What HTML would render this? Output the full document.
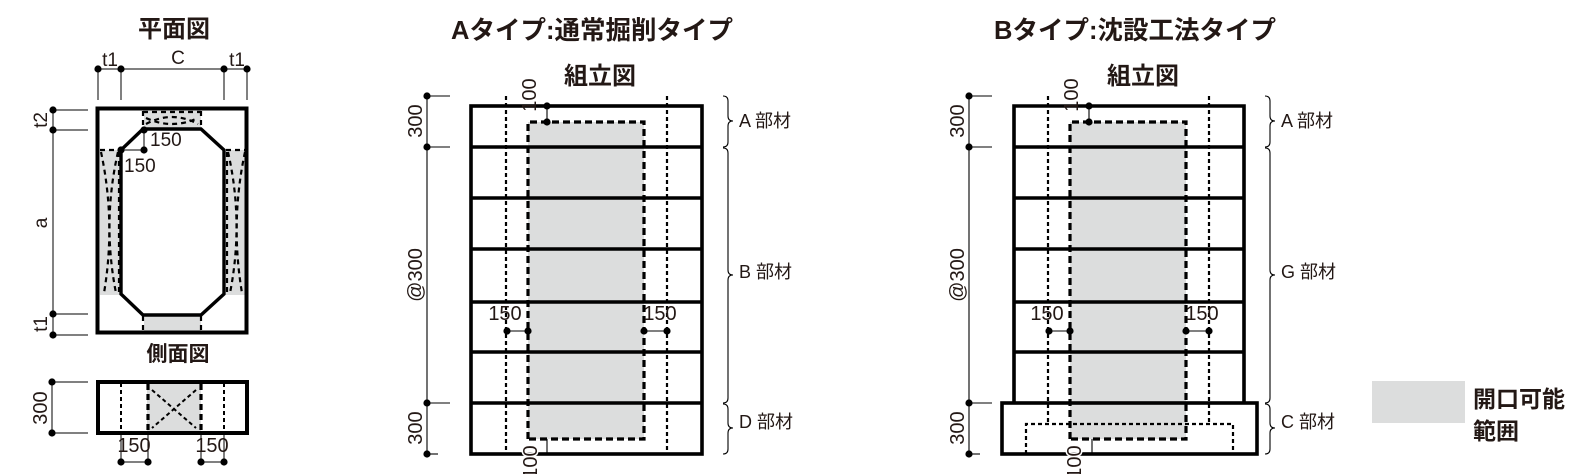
<!DOCTYPE html>
<html><head><meta charset="utf-8"><style>
html,body{margin:0;padding:0;background:#fff;}
svg{display:block;font-family:"Liberation Sans","Noto Sans CJK JP",sans-serif;}
</style></head><body>
<svg width="1586" height="474" viewBox="0 0 1586 474" xmlns="http://www.w3.org/2000/svg">
<defs>
<g id="dot"><circle r="3.6" fill="#000"/></g>
</defs>
<g font-weight="bold" fill="#231815" font-size="24">
<text x="174" y="37" text-anchor="middle">平面図</text>
<text x="178" y="361" text-anchor="middle" font-size="21">側面図</text>
<text x="592" y="39" text-anchor="middle" font-size="25.5">Aタイプ:通常掘削タイプ</text>
<text x="600" y="84" text-anchor="middle">組立図</text>
<text x="1135" y="39" text-anchor="middle" font-size="25.5">Bタイプ:沈設工法タイプ</text>
<text x="1143" y="84" text-anchor="middle">組立図</text>
</g>

<!-- ========== PLAN VIEW ========== -->
<g stroke="#000" fill="none">
<rect x="144" y="111" width="57" height="18" fill="#dcdddd" stroke="none"/>
<rect x="100" y="150" width="20" height="145" fill="#dcdddd" stroke="none"/>
<rect x="226" y="150" width="20" height="145" fill="#dcdddd" stroke="none"/>
<rect x="144" y="314" width="57" height="18" fill="#dcdddd" stroke="none"/>
<g stroke-width="2.2" stroke-dasharray="5,4">
<line x1="143" y1="111" x2="143" y2="129"/><line x1="201" y1="111" x2="201" y2="129"/>
<line x1="143" y1="112" x2="201" y2="112"/>
<path d="M146 118 Q172 130 198 118"/><path d="M146 124 Q172 110 198 124"/>
<line x1="100" y1="150" x2="120" y2="150"/><line x1="226" y1="150" x2="246" y2="150"/>
<line x1="119" y1="152" x2="119" y2="293"/><line x1="227" y1="152" x2="227" y2="293"/>
<path d="M101 152 Q116 222 104 293"/><path d="M118 152 Q102 222 116 293"/>
<path d="M245 152 Q230 222 242 293"/><path d="M228 152 Q244 222 230 293"/>
<line x1="143" y1="316" x2="143" y2="332"/><line x1="201" y1="316" x2="201" y2="332"/>
</g>
<rect x="97.5" y="108.5" width="149" height="224" stroke-width="4"/>
<path d="M143 129 L201 129 L224 150 L224 294 L201 315 L143 315 L121 294 L121 150 Z" stroke-width="3.4"/>
<g stroke-width="1">
<line x1="98" y1="69" x2="247" y2="69"/>
<line x1="98" y1="69" x2="98" y2="100"/><line x1="121" y1="69" x2="121" y2="100"/>
<line x1="224" y1="69" x2="224" y2="100"/><line x1="247" y1="69" x2="247" y2="100"/>
<line x1="53" y1="110" x2="53" y2="335"/>
<line x1="53" y1="110" x2="88" y2="110"/><line x1="53" y1="130" x2="88" y2="130"/>
<line x1="53" y1="314" x2="88" y2="314"/><line x1="53" y1="335" x2="88" y2="335"/>
<line x1="144" y1="130" x2="144" y2="150"/><line x1="121" y1="150" x2="144" y2="150"/>
</g>
</g>
<g fill="#000">
<use href="#dot" x="98" y="69"/><use href="#dot" x="121" y="69"/><use href="#dot" x="224" y="69"/><use href="#dot" x="247" y="69"/>
<use href="#dot" x="53" y="110"/><use href="#dot" x="53" y="130"/><use href="#dot" x="53" y="314"/><use href="#dot" x="53" y="335"/>
<use href="#dot" x="144" y="130"/><use href="#dot" x="144" y="150"/><use href="#dot" x="121" y="150"/>
</g>
<g font-size="19" fill="#231815">
<text x="110" y="66" text-anchor="middle">t1</text>
<text x="178" y="64" text-anchor="middle">C</text>
<text x="237" y="66" text-anchor="middle">t1</text>
<text transform="translate(47,120) rotate(-90)" text-anchor="middle">t2</text>
<text transform="translate(47,223) rotate(-90)" text-anchor="middle">a</text>
<text transform="translate(47,324) rotate(-90)" text-anchor="middle">t1</text>
<text x="150" y="146">150</text>
<text x="124" y="172">150</text>
</g>

<!-- ========== SIDE VIEW ========== -->
<g stroke="#000" fill="none">
<rect x="147" y="383" width="54" height="49" fill="#dcdddd" stroke="none"/>
<g stroke-width="2" stroke-dasharray="4,3">
<line x1="121" y1="383" x2="121" y2="432"/><line x1="224" y1="383" x2="224" y2="432"/>
<line x1="152" y1="390" x2="196" y2="428"/><line x1="196" y1="390" x2="152" y2="428"/>
</g>
<g stroke-width="3.2" stroke-dasharray="6,4">
<line x1="148" y1="384" x2="148" y2="432"/><line x1="201" y1="384" x2="201" y2="432"/>
</g>
<rect x="98" y="382" width="149" height="51" stroke-width="4"/>
<g stroke-width="1">
<line x1="52" y1="382" x2="88" y2="382"/><line x1="52" y1="433" x2="88" y2="433"/><line x1="52" y1="382" x2="52" y2="433"/>
<line x1="121" y1="433" x2="121" y2="462"/><line x1="148" y1="433" x2="148" y2="462"/>
<line x1="201" y1="433" x2="201" y2="462"/><line x1="224" y1="433" x2="224" y2="462"/>
<line x1="121" y1="462" x2="148" y2="462"/><line x1="201" y1="462" x2="224" y2="462"/>
</g>
</g>
<g>
<use href="#dot" x="52" y="382"/><use href="#dot" x="52" y="433"/>
<use href="#dot" x="121" y="462"/><use href="#dot" x="148" y="462"/><use href="#dot" x="201" y="462"/><use href="#dot" x="224" y="462"/>
</g>
<g font-size="20" fill="#231815">
<text transform="translate(47,408) rotate(-90)" text-anchor="middle">300</text>
<text x="134" y="452" text-anchor="middle">150</text>
<text x="212" y="452" text-anchor="middle">150</text>
</g>

<!-- ========== A TYPE ========== -->
<g>
<g stroke="#000" fill="none">
<rect x="528" y="122" width="116" height="317" fill="#dcdddd" stroke="none"/>
<g stroke-width="2.2" stroke-dasharray="4,3">
<line x1="506" y1="96" x2="506" y2="454"/><line x1="667" y1="96" x2="667" y2="454"/>
</g>
<g stroke-width="3.2" stroke-dasharray="7,4">
<path d="M528 439 L528 122 L644 122 L644 439 L528 439"/>
</g>
<g stroke-width="3.6">
<rect x="471" y="106" width="231" height="348"/>
<line x1="471" y1="147" x2="702" y2="147"/><line x1="471" y1="198" x2="702" y2="198"/>
<line x1="471" y1="249" x2="702" y2="249"/><line x1="471" y1="302" x2="702" y2="302"/>
<line x1="471" y1="352" x2="702" y2="352"/><line x1="471" y1="403" x2="702" y2="403"/>
</g>
<g stroke-width="1.1">
<line x1="427" y1="96" x2="427" y2="454"/>
<line x1="427" y1="96" x2="450" y2="96"/><line x1="427" y1="147" x2="450" y2="147"/>
<line x1="427" y1="403" x2="450" y2="403"/><line x1="427" y1="454" x2="438" y2="454"/>
<line x1="547" y1="106" x2="547" y2="122"/>
<line x1="547" y1="439" x2="547" y2="454"/>
<line x1="507" y1="331" x2="528" y2="331"/><line x1="644" y1="331" x2="667" y2="331"/>
<path d="M723 96 q5 0 5 5 L728 116 q0 5 5 5 q-5 0 -5 5 L728 142 q0 5 -5 5"/>
<path d="M723 148 q5 0 5 5 L728 270 q0 5 5 5 q-5 0 -5 5 L728 398 q0 5 -5 5"/>
<path d="M723 404 q5 0 5 5 L728 423 q0 5 5 5 q-5 0 -5 5 L728 449 q0 5 -5 5"/>
</g>
</g>
<use href="#dot" x="427" y="96"/><use href="#dot" x="427" y="147"/><use href="#dot" x="427" y="403"/><use href="#dot" x="427" y="454"/>
<use href="#dot" x="547" y="106"/><use href="#dot" x="547" y="122"/>
<use href="#dot" x="507" y="331"/><use href="#dot" x="528" y="331"/><use href="#dot" x="644" y="331"/><use href="#dot" x="667" y="331"/>
<g font-size="20" fill="#231815">
<text transform="translate(422,121) rotate(-90)" text-anchor="middle">300</text>
<text transform="translate(422,275) rotate(-90)" text-anchor="middle">@300</text>
<text transform="translate(422,428) rotate(-90)" text-anchor="middle">300</text>
<text transform="translate(536,95) rotate(-90)" text-anchor="middle">100</text>
<text x="505" y="320" text-anchor="middle">150</text>
<text x="660" y="320" text-anchor="middle">150</text>
</g>
<g font-size="18" fill="#231815">
<text x="739" y="127">A 部材</text>
<text x="739" y="278">B 部材</text>
<text x="739" y="428">D 部材</text>
</g>
<g font-size="20" fill="#231815" stroke="#fff" stroke-width="3" paint-order="stroke">
<text transform="translate(537,462) rotate(-90)" text-anchor="middle">100</text>
</g>
</g>

<!-- ========== B TYPE ========== -->
<g transform="translate(542,0)">
<g stroke="#000" fill="none">
<rect x="528" y="122" width="116" height="317" fill="#dcdddd" stroke="none"/>
<g stroke-width="2.2" stroke-dasharray="4,3">
<line x1="506" y1="96" x2="506" y2="424"/><line x1="667" y1="96" x2="667" y2="424"/>
<path d="M484 454 L484 424 L691 424 L691 454"/>
</g>
<g stroke-width="3.2" stroke-dasharray="7,4">
<path d="M528 439 L528 122 L644 122 L644 439 L528 439"/>
</g>
<g stroke-width="3.6">
<path d="M472 403 L472 106 L702 106 L702 403"/>
<line x1="472" y1="147" x2="702" y2="147"/><line x1="472" y1="198" x2="702" y2="198"/>
<line x1="472" y1="249" x2="702" y2="249"/><line x1="472" y1="302" x2="702" y2="302"/>
<line x1="472" y1="352" x2="702" y2="352"/>
<rect x="460" y="403" width="255" height="51"/>
</g>
<g stroke-width="1.1">
<line x1="427" y1="96" x2="427" y2="454"/>
<line x1="427" y1="96" x2="450" y2="96"/><line x1="427" y1="147" x2="450" y2="147"/>
<line x1="427" y1="403" x2="450" y2="403"/><line x1="427" y1="454" x2="438" y2="454"/>
<line x1="547" y1="106" x2="547" y2="122"/>
<line x1="550" y1="439" x2="550" y2="454"/>
<line x1="507" y1="331" x2="528" y2="331"/><line x1="644" y1="331" x2="667" y2="331"/>
<path d="M723 96 q5 0 5 5 L728 116 q0 5 5 5 q-5 0 -5 5 L728 142 q0 5 -5 5"/>
<path d="M723 148 q5 0 5 5 L728 270 q0 5 5 5 q-5 0 -5 5 L728 398 q0 5 -5 5"/>
<path d="M723 404 q5 0 5 5 L728 423 q0 5 5 5 q-5 0 -5 5 L728 449 q0 5 -5 5"/>
</g>
</g>
<use href="#dot" x="427" y="96"/><use href="#dot" x="427" y="147"/><use href="#dot" x="427" y="403"/><use href="#dot" x="427" y="454"/>
<use href="#dot" x="547" y="106"/><use href="#dot" x="547" y="122"/>
<use href="#dot" x="507" y="331"/><use href="#dot" x="528" y="331"/><use href="#dot" x="644" y="331"/><use href="#dot" x="667" y="331"/>
<g font-size="20" fill="#231815">
<text transform="translate(422,121) rotate(-90)" text-anchor="middle">300</text>
<text transform="translate(422,275) rotate(-90)" text-anchor="middle">@300</text>
<text transform="translate(422,428) rotate(-90)" text-anchor="middle">300</text>
<text transform="translate(536,95) rotate(-90)" text-anchor="middle">100</text>
<text x="505" y="320" text-anchor="middle">150</text>
<text x="660" y="320" text-anchor="middle">150</text>
</g>
<g font-size="18" fill="#231815">
<text x="739" y="127">A 部材</text>
<text x="739" y="278">G 部材</text>
<text x="739" y="428">C 部材</text>
</g>
<g font-size="20" fill="#231815" stroke="#fff" stroke-width="3" paint-order="stroke">
<text transform="translate(539,462) rotate(-90)" text-anchor="middle">100</text>
</g>
</g>

<!-- Legend -->
<rect x="1372" y="381" width="93" height="42" fill="#dcdddd"/>
<g font-size="23" font-weight="bold" fill="#231815">
<text x="1473" y="407">開口可能</text>
<text x="1473" y="439">範囲</text>
</g>
</svg>
</body></html>
